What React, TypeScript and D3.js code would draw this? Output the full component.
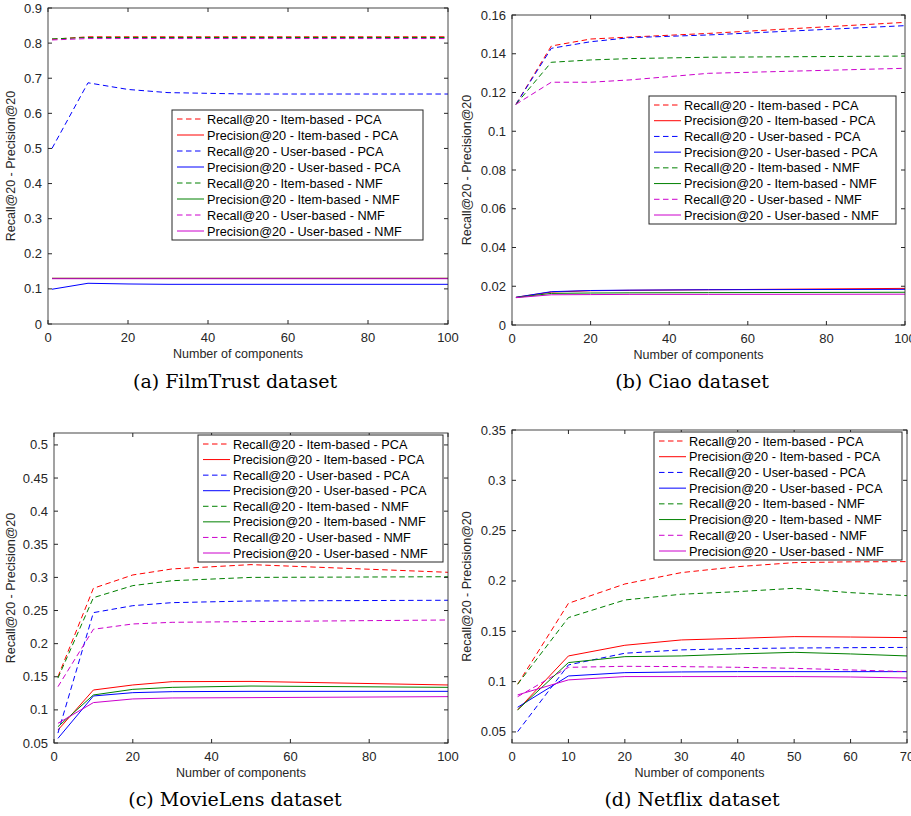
import React, { useRef, useEffect } from 'react';
import * as d3 from 'd3';

// legend / series labels (same order in every panel)
const seriesLabels = [
  'Recall@20 - Item-based - PCA',
  'Precision@20 - Item-based - PCA',
  'Recall@20 - User-based - PCA',
  'Precision@20 - User-based - PCA',
  'Recall@20 - Item-based - NMF',
  'Precision@20 - Item-based - NMF',
  'Recall@20 - User-based - NMF',
  'Precision@20 - User-based - NMF',
];

// (a) FilmTrust
const filmTrustX = [1, 10, 20, 30, 50, 100];
const filmTrustRecallItemPca = [0.811, 0.818, 0.818, 0.818, 0.818, 0.818];
const filmTrustPrecItemPca = [0.13, 0.13, 0.13, 0.13, 0.13, 0.13];
const filmTrustRecallUserPca = [0.5, 0.687, 0.668, 0.659, 0.655, 0.655];
const filmTrustPrecUserPca = [0.099, 0.116, 0.114, 0.113, 0.113, 0.113];
const filmTrustRecallItemNmf = [0.812, 0.816, 0.816, 0.816, 0.816, 0.816];
const filmTrustPrecItemNmf = [0.13, 0.13, 0.13, 0.13, 0.13, 0.13];
const filmTrustRecallUserNmf = [0.809, 0.813, 0.813, 0.813, 0.813, 0.813];
const filmTrustPrecUserNmf = [0.129, 0.129, 0.129, 0.129, 0.129, 0.129];

// (b) Ciao
const ciaoX = [1, 10, 20, 30, 50, 100];
const ciaoRecallItemPca = [0.1139, 0.144, 0.1476, 0.1486, 0.1505, 0.1562];
const ciaoPrecItemPca = [0.0143, 0.017, 0.0177, 0.0179, 0.0182, 0.0189];
const ciaoRecallUserPca = [0.1139, 0.1428, 0.1462, 0.1483, 0.1497, 0.1545];
const ciaoPrecUserPca = [0.0143, 0.0172, 0.0178, 0.018, 0.0182, 0.0184];
const ciaoRecallItemNmf = [0.1139, 0.1356, 0.1368, 0.1375, 0.1382, 0.1388];
const ciaoPrecItemNmf = [0.0142, 0.0163, 0.0165, 0.0166, 0.0167, 0.0169];
const ciaoRecallUserNmf = [0.1139, 0.1253, 0.1253, 0.1265, 0.1299, 0.1325];
const ciaoPrecUserNmf = [0.0141, 0.0156, 0.0157, 0.0158, 0.0158, 0.0159];

// (c) MovieLens
const movieLensX = [1, 10, 20, 30, 50, 100];
const movieLensRecallItemPca = [0.15, 0.2836, 0.3037, 0.3128, 0.3193, 0.3077];
const movieLensPrecItemPca = [0.0696, 0.13, 0.1376, 0.1426, 0.143, 0.1376];
const movieLensRecallUserPca = [0.065, 0.2468, 0.2573, 0.2619, 0.2644, 0.2655];
const movieLensPrecUserPca = [0.057, 0.121, 0.126, 0.1275, 0.128, 0.128];
const movieLensRecallItemNmf = [0.148, 0.2694, 0.2876, 0.295, 0.3, 0.301];
const movieLensPrecItemNmf = [0.0746, 0.1225, 0.131, 0.134, 0.136, 0.134];
const movieLensRecallUserNmf = [0.135, 0.2217, 0.2297, 0.2322, 0.2333, 0.2357];
const movieLensPrecUserNmf = [0.0797, 0.111, 0.1165, 0.118, 0.1185, 0.12];

// (d) Netflix
const netflixX = [1, 10, 20, 30, 40, 50, 60, 70];
const netflixRecallItemPca = [0.0974, 0.1778, 0.197, 0.2083, 0.2142, 0.2182, 0.219, 0.2192];
const netflixPrecItemPca = [0.0719, 0.1255, 0.1361, 0.1414, 0.143, 0.1447, 0.1443, 0.1437];
const netflixRecallUserPca = [0.0503, 0.1166, 0.1282, 0.1315, 0.1328, 0.1334, 0.1337, 0.134];
const netflixPrecUserPca = [0.0745, 0.1056, 0.1089, 0.1096, 0.1099, 0.1099, 0.1099, 0.1099];
const netflixRecallItemNmf = [0.0974, 0.1636, 0.1811, 0.1868, 0.1894, 0.1927, 0.1884, 0.1854];
const netflixPrecItemNmf = [0.0719, 0.1189, 0.1248, 0.1255, 0.1275, 0.1291, 0.1275, 0.1255];
const netflixRecallUserNmf = [0.085, 0.1142, 0.1152, 0.1149, 0.1142, 0.1132, 0.1116, 0.1099];
const netflixPrecUserNmf = [0.0868, 0.1017, 0.105, 0.105, 0.105, 0.105, 0.1046, 0.1036];

// tick values
const ticks100 = [0, 20, 40, 60, 80, 100];
const ticks70 = [0, 10, 20, 30, 40, 50, 60, 70];
const filmTrustYTicks = [0, 0.1, 0.2, 0.3, 0.4, 0.5, 0.6, 0.7, 0.8, 0.9];
const ciaoYTicks = [0, 0.02, 0.04, 0.06, 0.08, 0.1, 0.12, 0.14, 0.16];
const movieLensYTicks = [0.05, 0.1, 0.15, 0.2, 0.25, 0.3, 0.35, 0.4, 0.45, 0.5];
const netflixYTicks = [0.05, 0.1, 0.15, 0.2, 0.25, 0.3, 0.35];

const seriesColors = ['#ff0000', '#ff0000', '#0000ff', '#0000ff', '#008000', '#008000', '#cc00cc', '#cc00cc'];
const axisColor = '#262626';
const sans = '"Liberation Sans", Arial, sans-serif';

const panels = [
  {
    caption: '(a) FilmTrust dataset', captionX: 235, captionY: 388,
    box: { left: 48, top: 8, right: 448, bottom: 324 },
    xDomain: [0, 100], xTicks: ticks100, yDomain: [0, 0.9], yTicks: filmTrustYTicks, ylabelX: 15,
    legend: { left: 172, top: 110, right: 423, bottom: 240 },
    x: filmTrustX,
    series: [filmTrustRecallItemPca, filmTrustPrecItemPca, filmTrustRecallUserPca, filmTrustPrecUserPca,
      filmTrustRecallItemNmf, filmTrustPrecItemNmf, filmTrustRecallUserNmf, filmTrustPrecUserNmf],
  },
  {
    caption: '(b) Ciao dataset', captionX: 692, captionY: 388,
    box: { left: 512, top: 15, right: 905, bottom: 325 },
    xDomain: [0, 100], xTicks: ticks100, yDomain: [0, 0.16], yTicks: ciaoYTicks, ylabelX: 471,
    legend: { left: 649, top: 96, right: 896, bottom: 224 },
    x: ciaoX,
    series: [ciaoRecallItemPca, ciaoPrecItemPca, ciaoRecallUserPca, ciaoPrecUserPca,
      ciaoRecallItemNmf, ciaoPrecItemNmf, ciaoRecallUserNmf, ciaoPrecUserNmf],
  },
  {
    caption: '(c) MovieLens dataset', captionX: 235, captionY: 806,
    box: { left: 54, top: 433, right: 448, bottom: 743 },
    xDomain: [0, 100], xTicks: ticks100, yDomain: [0.05, 0.518], yTicks: movieLensYTicks, ylabelX: 15,
    legend: { left: 198, top: 435, right: 443, bottom: 562 },
    x: movieLensX,
    series: [movieLensRecallItemPca, movieLensPrecItemPca, movieLensRecallUserPca, movieLensPrecUserPca,
      movieLensRecallItemNmf, movieLensPrecItemNmf, movieLensRecallUserNmf, movieLensPrecUserNmf],
  },
  {
    caption: '(d) Netflix dataset', captionX: 692, captionY: 806,
    box: { left: 512, top: 430, right: 907, bottom: 743 },
    xDomain: [0, 70], xTicks: ticks70, yDomain: [0.039, 0.35], yTicks: netflixYTicks, ylabelX: 471,
    legend: { left: 654, top: 432, right: 902, bottom: 560 },
    x: netflixX,
    series: [netflixRecallItemPca, netflixPrecItemPca, netflixRecallUserPca, netflixPrecUserPca,
      netflixRecallItemNmf, netflixPrecItemNmf, netflixRecallUserNmf, netflixPrecUserNmf],
  },
];

const fmt = (d: number) => (d === 0 ? '0' : String(+d.toFixed(3)));

const App = () => {
  const svgRef = useRef<SVGSVGElement>(null);

  useEffect(() => {
    const svg = d3.select(svgRef.current);
    svg.selectAll('*').remove();

    panels.forEach((p, pi) => {
      const { left, top, right, bottom } = p.box;
      const x = d3.scaleLinear().domain(p.xDomain).range([left, right]);
      const y = d3.scaleLinear().domain(p.yDomain).range([bottom, top]);
      const g = svg.append('g');

      const clipId = `clip${pi}`;
      g.append('clipPath').attr('id', clipId)
        .append('rect').attr('x', left).attr('y', top).attr('width', right - left).attr('height', bottom - top);

      // series lines
      const line = d3.line<number>()
        .x((_, i) => x(p.x[i]))
        .y(d => y(d));
      p.series.forEach((vals, si) => {
        g.append('path')
          .attr('d', line(vals))
          .attr('fill', 'none')
          .attr('stroke', seriesColors[si])
          .attr('stroke-width', 1)
          .attr('stroke-dasharray', si % 2 === 0 ? '5.5,3.5' : null)
          .attr('clip-path', `url(#${clipId})`);
      });

      // box
      g.append('rect')
        .attr('x', left).attr('y', top)
        .attr('width', right - left).attr('height', bottom - top)
        .attr('fill', 'none').attr('stroke', axisColor).attr('stroke-width', 1).attr('opacity', 0.85);

      // ticks (inward, all four sides)
      const tl = 4;
      p.xTicks.forEach(t => {
        const xx = x(t);
        g.append('line').attr('x1', xx).attr('x2', xx).attr('y1', bottom).attr('y2', bottom - tl).attr('stroke', axisColor);
        g.append('line').attr('x1', xx).attr('x2', xx).attr('y1', top).attr('y2', top + tl).attr('stroke', axisColor);
        g.append('text')
          .attr('x', xx).attr('y', bottom + 18)
          .attr('text-anchor', 'middle')
          .attr('font-family', sans).attr('font-size', 13).attr('fill', axisColor)
          .text(fmt(t));
      });
      p.yTicks.forEach(t => {
        const yy = y(t);
        g.append('line').attr('x1', left).attr('x2', left + tl).attr('y1', yy).attr('y2', yy).attr('stroke', axisColor);
        g.append('line').attr('x1', right).attr('x2', right - tl).attr('y1', yy).attr('y2', yy).attr('stroke', axisColor);
        g.append('text')
          .attr('x', left - 6).attr('y', yy + 4.5)
          .attr('text-anchor', 'end')
          .attr('font-family', sans).attr('font-size', 13).attr('fill', axisColor)
          .text(fmt(t));
      });

      // axis labels
      g.append('text')
        .attr('x', (left + right) / 2 - 10).attr('y', bottom + 34)
        .attr('text-anchor', 'middle')
        .attr('font-family', sans).attr('font-size', 12.5).attr('fill', axisColor)
        .text('Number of components');
      g.append('text')
        .attr('transform', `translate(${p.ylabelX},${(top + bottom) / 2}) rotate(-90)`)
        .attr('text-anchor', 'middle')
        .attr('font-family', sans).attr('font-size', 12.5).attr('fill', axisColor)
        .text('Recall@20 - Precision@20');

      // legend
      const L = p.legend;
      g.append('rect')
        .attr('x', L.left).attr('y', L.top)
        .attr('width', L.right - L.left).attr('height', L.bottom - L.top)
        .attr('fill', '#fff').attr('stroke', axisColor).attr('stroke-width', 1);
      const step = (L.bottom - L.top - 18) / 7;
      seriesLabels.forEach((lab, si) => {
        const cy = L.top + 9 + si * step;
        g.append('line')
          .attr('x1', L.left + 5).attr('x2', L.left + 32)
          .attr('y1', cy).attr('y2', cy)
          .attr('stroke', seriesColors[si]).attr('stroke-width', 1)
          .attr('stroke-dasharray', si % 2 === 0 ? '5.5,3.5' : null);
        g.append('text')
          .attr('x', L.left + 35).attr('y', cy + 4.5)
          .attr('font-family', sans).attr('font-size', 12.7).attr('fill', '#000')
          .text(lab);
      });

      // caption
      g.append('text')
        .attr('x', p.captionX).attr('y', p.captionY)
        .attr('text-anchor', 'middle')
        .attr('font-family', '"DejaVu Serif", serif').attr('font-size', 19).attr('fill', '#000')
        .text(p.caption);
    });
  }, []);

  return (
    <svg ref={svgRef} width={911} height={816}
      style={{ position: 'absolute', left: 0, top: 0, background: '#fff' }} />
  );
};

export default App;
